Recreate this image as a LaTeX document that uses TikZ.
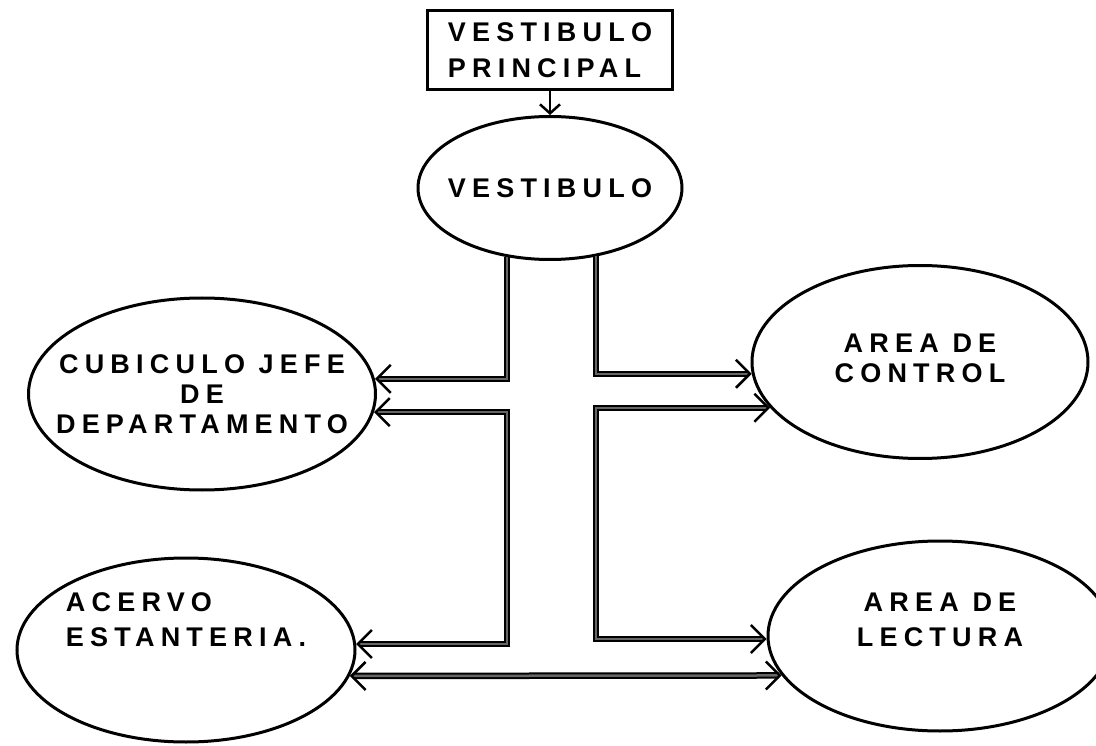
\documentclass[tikz,border=0pt]{standalone}
\usepackage{fontspec}
\setmainfont{Liberation Sans}[BoldFont={Liberation Sans Bold}, LetterSpace=23]
\usetikzlibrary{arrows.meta,shapes.geometric}
\begin{document}
\begin{tikzpicture}[x=1pt,y=-1pt]
    \tikzset{
        room/.style={draw, ellipse, line width=3pt, inner sep=0pt},
        lbl/.style={font=\bfseries\fontsize{27}{30}\selectfont, align=center, inner sep=0pt},
        corridor/.style={line width=2pt, double=black!60, double distance=2.5pt},
        >={Straight Barb[length=14pt,width=28pt,line width=2.5pt]}
    }
    \useasboundingbox (0,0) rectangle (1096,746);

    \draw node[draw, line width=2.5pt, lbl, align=left, minimum width=245pt, minimum height=79pt] (box) at (550,50) {VESTIBULO\\[6pt]PRINCIPAL};
    \draw node[room, minimum width=264pt, minimum height=143pt, label={[lbl]center:VESTIBULO}] (vest) at (550,188) {};
    \draw node[room, minimum width=347pt, minimum height=192pt, label={[lbl]center:{CUBICULO JEFE\\DE\\DEPARTAMENTO}}] (cubiculo) at (202,394) {};
    \draw node[room, minimum width=336pt, minimum height=193pt, label={[lbl, yshift=4pt]center:{AREA DE\\CONTROL}}] (control) at (920,362) {};
    \draw node[room, minimum width=338pt, minimum height=184pt, label={[lbl, align=left, yshift=30pt]center:{ACERVO\\[5pt]ESTANTERIA.}}] (acervo) at (186,650) {};
    \draw node[room, minimum width=344pt, minimum height=190pt, label={[lbl, yshift=16pt]center:{AREA DE\\[5pt]LECTURA}}] (lectura) at (940,636) {};

    \draw[-{Straight Barb[length=9pt,width=20pt,line width=2.5pt]}, line width=2.5pt] (box) -- (vest);
    \foreach \x/\y in {%
        vest.238/cubiculo.5, vest.304/control.184%
    }{
    \draw[corridor, ->] (\x) |- (\y);
    }
    \foreach \x/\y/\z in {%
        cubiculo.354/vest.238/acervo.2, control.197/vest.304/lectura.181%
    }{
    \draw[corridor, <->] (\x) -| (\y |- \z) -- (\z);
    }
    \draw[corridor, <->] (acervo.351) -- (lectura.194);
\end{tikzpicture}
\end{document}
